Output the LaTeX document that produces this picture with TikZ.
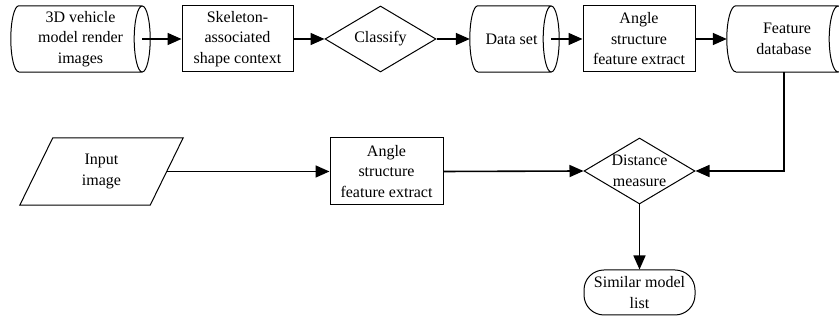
\documentclass[tikz,border=0pt]{standalone}
\usepackage{fontspec}
\setmainfont{Liberation Serif}
\newfontfamily\tnrfont{Liberation Serif}
\usetikzlibrary{shapes.geometric,arrows.meta,calc}
\newcommand\dfont{\tnrfont\fontsize{16}{20.5}\selectfont}
\newcommand\cylout[2]{%
  \draw[outl] ([xshift=#2pt]#1.north west) -- ([xshift=-#2pt]#1.north east)
    ([xshift=#2pt]#1.south west) -- ([xshift=-#2pt]#1.south east)
    ([xshift=#2pt]#1.north west) arc[start angle=90,end angle=270,x radius=#2pt,y radius=33pt]
    ([xshift=-#2pt]#1.east) ellipse[x radius=#2pt,y radius=33pt];}
\tikzset{
  outl/.style={line width=1pt},
  txt/.style={font=\dfont, align=center, inner sep=0pt},
  cylnode/.style={txt, minimum height=66pt},
  procbox/.style={txt, draw, line width=1pt, rectangle, minimum height=66pt},
  decis/.style={draw, line width=1pt, diamond, inner sep=0pt, minimum width=111pt, minimum height=66pt},
  termbox/.style={txt, draw, line width=1pt, rectangle, rounded corners=20pt, minimum width=111pt, minimum height=45pt},
  arr/.style={-{Triangle[length=14pt,width=12pt]}, line width=1.6pt},
  dlabel/.style={font=\dfont, align=center, inner sep=0pt}
}
\begin{document}
\begin{tikzpicture}[x=1pt,y=1pt]
\useasboundingbox (0,0) rectangle (839,320);
% row 1
\node[cylnode, minimum width=139pt] (c1) at (80.5,281) {3D vehicle\\model render\\images};
\cylout{c1}{8}
\node[procbox, minimum width=111pt] (b2) at (237.5,281) {Skeleton-\\associated\\shape context};
\node[decis, label={[dlabel]center:Classify}] (cls) at (380.5,281) {};
\node[cylnode, minimum width=89pt] (ds) at (514.5,281) {Data set\hspace*{6pt}};
\cylout{ds}{8}
\node[procbox, minimum width=112pt] (b3) at (639,281) {Angle\\structure\\feature extract};
\node[cylnode, minimum width=120pt] (fdb) at (787,281) {Feature\\database\hspace*{6pt}};
\cylout{fdb}{9}
% row 2
\node[txt, minimum width=130pt, minimum height=67pt] (inp) at (101.5,148.5) {Input\\image};
\draw[outl] ([xshift=16.5pt]inp.north west) -- ([xshift=16.5pt]inp.north east)
  -- ([xshift=-16.5pt]inp.south east) -- ([xshift=-16.5pt]inp.south west) -- cycle;
\node[procbox, minimum width=113pt, minimum height=67pt] (b4) at (386.5,148.5) {Angle\\structure\\feature extract};
\node[decis, label={[dlabel]center:Distance\\measure}] (dm) at (639.5,149) {};
\node[termbox] (term) at (639.5,27.5) {Similar model\\list};
% connectors
\draw[arr] ([xshift=-8pt]c1.east) -- (b2.west);
\draw[arr] (b2.east) -- (cls.west);
\draw[arr] (cls.east) -- (ds.west);
\draw[arr] ([xshift=-8pt]ds.east) -- (b3.west);
\draw[arr] (b3.east) -- (fdb.west);
\draw[arr] ([xshift=-3pt]fdb.south) |- (dm.east);
\draw[arr] (inp.east) -- (b4.west);
\draw[arr] (b4.east) -- (dm.west);
\draw[arr] (dm.south) -- (term.north);
\end{tikzpicture}
\end{document}
